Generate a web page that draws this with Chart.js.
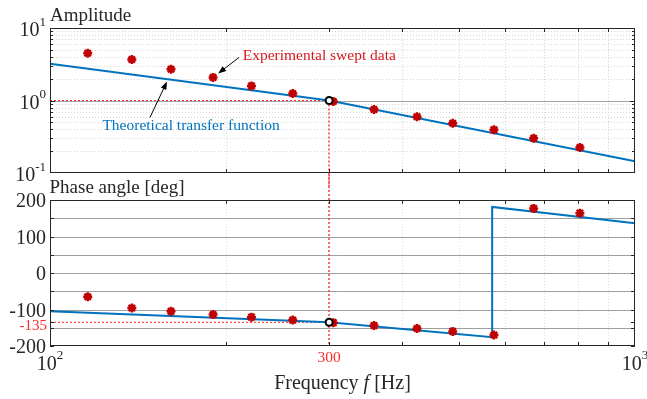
<!DOCTYPE html>
<html>
<head>
<meta charset="utf-8">
<script src="https://cdn.jsdelivr.net/npm/chart.js@4.4.1/dist/chart.umd.min.js"></script>
<style>
body{margin:0;background:#fff}
#wrap{position:relative;width:647px;height:399px}
canvas{position:absolute;left:0}
</style>
</head>
<body>
<div id="wrap">
<canvas id="ampChart" width="647" height="188" style="top:0"></canvas>
<canvas id="phaseChart" width="647" height="225" style="top:174px"></canvas>
</div>
<script>
var freqExp = [116, 138, 161, 190, 221, 260, 305, 358, 424, 488, 574, 671, 805];
var ampExp = [4.49, 3.68, 2.70, 2.08, 1.59, 1.25, 0.97, 0.75, 0.596, 0.486, 0.394, 0.302, 0.225];
var phaseExp = [-65, -96, -105, -114, -121, -129, -136, -144, -152, -160, -170, 177, 164];
// theoretical transfer function
var freqTheoryAmp = [100, 300, 1000];
var ampTheory = [3.21, 1.0, 0.145];
var freqTheoryPhase = [100, 300, 570, 570, 1000];
var phaseTheory = [-105, -135, -176, 181, 136];
// reference point
var refFreq = 300, refAmp = 1, refPhase = -135;
// ticks
var xMinorTicks = [200, 300, 400, 500, 600, 700, 800, 900];
var ampMinorTicks = [0.2, 0.3, 0.4, 0.5, 0.6, 0.7, 0.8, 0.9, 2, 3, 4, 5, 6, 7, 8, 9];
var ampMajorTicks = [0.1, 1, 10];
var ampTickExp = ['-1', '0', '1'];
var phaseTicks = [-200, -150, -100, -50, 0, 50, 100, 150, 200];
var phaseLabels = [200, 100, 0, -100, -200];

var SERIF = '"Liberation Serif", "Times New Roman", serif';
var DARK = '#262626';
var BLUE = '#0072bd';
var RED = '#c00000';
var REFRED = '#ff2020';

function pts(xs, ys) {
  return xs.map(function (f, i) { return {x: f, y: ys[i]}; });
}

function seg(ctx, x1, y1, x2, y2) {
  ctx.beginPath();
  ctx.moveTo(x1, y1);
  ctx.lineTo(x2, y2);
  ctx.stroke();
}

function txt(ctx, s, x, cy, size, color, align, italic) {
  ctx.font = (italic ? 'italic ' : '') + size + 'px ' + SERIF;
  ctx.fillStyle = color;
  ctx.textAlign = align;
  ctx.textBaseline = 'alphabetic';
  ctx.fillText(s, x, cy + 0.34 * size);
}

function pow10(ctx, e, x, cy, align) {
  ctx.font = '20px ' + SERIF;
  var wb = ctx.measureText('10').width;
  ctx.font = '13px ' + SERIF;
  var we = ctx.measureText(e).width;
  var left = align === 'right' ? x - wb - we : x - (wb + we) / 2;
  txt(ctx, '10', left, cy, 20, DARK, 'left');
  txt(ctx, e, left + wb, cy - 8, 13, DARK, 'left');
}

function crisp(v) { return Math.round(v) + 0.5; }

function arrow(ctx, x1, y1, x2, y2) {
  var ang = Math.atan2(y2 - y1, x2 - x1);
  ctx.strokeStyle = '#000';
  ctx.lineWidth = 1;
  seg(ctx, x1, y1, x2 - 6 * Math.cos(ang), y2 - 6 * Math.sin(ang));
  ctx.fillStyle = '#000';
  ctx.beginPath();
  ctx.moveTo(x2, y2);
  ctx.lineTo(x2 - 8 * Math.cos(ang) + 3 * Math.sin(ang), y2 - 8 * Math.sin(ang) - 3 * Math.cos(ang));
  ctx.lineTo(x2 - 8 * Math.cos(ang) - 3 * Math.sin(ang), y2 - 8 * Math.sin(ang) + 3 * Math.cos(ang));
  ctx.closePath();
  ctx.fill();
}

function xGrid(chart, gridColor) {
  var ctx = chart.ctx, a = chart.chartArea, x = chart.scales.x;
  ctx.strokeStyle = gridColor;
  ctx.lineWidth = 1;
  ctx.setLineDash([1, 2]);
  xMinorTicks.forEach(function (f) {
    if (f === refFreq) return;
    var px = crisp(x.getPixelForValue(f));
    seg(ctx, px, a.top, px, a.bottom);
  });
  ctx.setLineDash([]);
}

function refLine(chart, yFrom, yTo) {
  var ctx = chart.ctx, x = chart.scales.x;
  ctx.save();
  ctx.strokeStyle = '#ff3b3b';
  ctx.lineWidth = 1.5;
  ctx.setLineDash([2, 2]);
  var px = Math.round(x.getPixelForValue(refFreq));
  seg(ctx, px, yFrom, px, yTo);
  ctx.restore();
}

function frame(chart, yTicks) {
  var ctx = chart.ctx, a = chart.chartArea, x = chart.scales.x, y = chart.scales.y;
  ctx.save();
  ctx.strokeStyle = DARK;
  ctx.lineWidth = 1;
  ctx.setLineDash([]);
  ctx.strokeRect(a.left + 0.5, a.top + 0.5, a.right - a.left - 1, a.bottom - a.top - 1);
  xMinorTicks.forEach(function (f) {
    var px = crisp(x.getPixelForValue(f));
    seg(ctx, px, a.bottom, px, a.bottom - 4);
    seg(ctx, px, a.top, px, a.top + 4);
  });
  yTicks.forEach(function (t) {
    var py = crisp(y.getPixelForValue(t.v));
    seg(ctx, a.left, py, a.left + t.len, py);
    seg(ctx, a.right, py, a.right - t.len, py);
  });
  ctx.restore();
}

var notes = [
  {text: 'Experimental swept data', color: '#d7191c', at: [213.5, 4.27], tail: [210.4, 3.92], tip: [193.8, 2.36]},
  {text: 'Theoretical transfer function', color: BLUE, at: [122.9, 0.462], tail: [148.2, 0.583], tip: [158.5, 1.83]}
];

var ampPlugin = {
  id: 'ampDecor',
  beforeDatasetsDraw: function (chart) {
    var ctx = chart.ctx, a = chart.chartArea, y = chart.scales.y;
    ctx.save();
    xGrid(chart, '#d6d6d6');
    ctx.setLineDash([1, 2]);
    ctx.strokeStyle = '#d6d6d6';
    ampMinorTicks.forEach(function (v) {
      var py = crisp(y.getPixelForValue(v));
      seg(ctx, a.left, py, a.right, py);
    });
    ctx.setLineDash([]);
    ctx.strokeStyle = '#a6a6a6';
    var p1 = crisp(y.getPixelForValue(1));
    seg(ctx, a.left, p1, a.right, p1);
    ctx.restore();
    // vertical reference line, runs on into the phase panel
    refLine(chart, y.getPixelForValue(refAmp), chart.height);
  },
  afterDatasetsDraw: function (chart) {
    var ticks = ampMinorTicks.map(function (v) { return {v: v, len: 3}; })
      .concat([{v: 1, len: 5}]);
    frame(chart, ticks);
  },
  afterDraw: function (chart) {
    var ctx = chart.ctx, a = chart.chartArea, x = chart.scales.x, y = chart.scales.y;
    ctx.save();
    txt(ctx, 'Amplitude', a.left, a.top - 13.5, 19, DARK, 'left');
    ampMajorTicks.forEach(function (v, i) {
      pow10(ctx, ampTickExp[i], 46, y.getPixelForValue(v) + 1.5, 'right');
    });
    notes.forEach(function (n) {
      txt(ctx, n.text, x.getPixelForValue(n.at[0]), y.getPixelForValue(n.at[1]), 15.5, n.color, 'left');
      arrow(ctx, x.getPixelForValue(n.tail[0]), y.getPixelForValue(n.tail[1]),
        x.getPixelForValue(n.tip[0]), y.getPixelForValue(n.tip[1]));
    });
    ctx.restore();
  }
};

var phasePlugin = {
  id: 'phaseDecor',
  beforeDatasetsDraw: function (chart) {
    var ctx = chart.ctx, a = chart.chartArea, y = chart.scales.y;
    ctx.save();
    xGrid(chart, '#dedede');
    ctx.strokeStyle = '#9e9e9e';
    phaseTicks.slice(1, -1).forEach(function (v) {
      var py = crisp(y.getPixelForValue(v));
      seg(ctx, a.left, py, a.right, py);
    });
    ctx.restore();
    refLine(chart, 0, a.bottom);
  },
  afterDatasetsDraw: function (chart) {
    var ticks = phaseTicks.map(function (v) { return {v: v, len: 4}; })
      .concat([{v: refPhase, len: 4}]);
    frame(chart, ticks);
  },
  afterDraw: function (chart) {
    var ctx = chart.ctx, a = chart.chartArea, x = chart.scales.x, y = chart.scales.y;
    ctx.save();
    txt(ctx, 'Phase angle [deg]', a.left - 0.5, a.top - 13.5, 19, DARK, 'left');
    phaseLabels.forEach(function (v) {
      txt(ctx, String(v), 46, y.getPixelForValue(v) + 0.5, 20, DARK, 'right');
    });
    txt(ctx, String(refPhase), 47, y.getPixelForValue(refPhase) + 3, 15, '#ff2a2a', 'right');
    pow10(ctx, '2', x.getPixelForValue(100), a.bottom + 17, 'center');
    pow10(ctx, '3', x.getPixelForValue(1000), a.bottom + 17, 'center');
    txt(ctx, String(refFreq), x.getPixelForValue(refFreq), a.bottom + 11, 15.5, '#ff2a2a', 'center');
    // axis title with italic f
    var parts = [['Frequency ', false], ['f', true], [' [Hz]', false]];
    var w = 0;
    parts.forEach(function (p) {
      ctx.font = (p[1] ? 'italic ' : '') + '20px ' + SERIF;
      p.push(ctx.measureText(p[0]).width);
      w += p[2];
    });
    var cx = (a.left + a.right) / 2 - w / 2;
    parts.forEach(function (p) {
      txt(ctx, p[0], cx, a.bottom + 36.5, 20, DARK, 'left', p[1]);
      cx += p[2];
    });
    ctx.restore();
  }
};

function baseOptions(pad, yScale) {
  return {
    responsive: false,
    animation: false,
    events: [],
    layout: {padding: pad},
    scales: {
      x: {type: 'logarithmic', min: 100, max: 1000, display: false},
      y: yScale
    },
    plugins: {legend: {display: false}, tooltip: {enabled: false}}
  };
}

function datasets(fTheory, vTheory, vExp, refY) {
  return [
    {data: pts([refFreq], [refY]), showLine: false, pointStyle: 'circle', pointRadius: 3.5,
      pointBorderWidth: 2, pointBorderColor: '#000', pointBackgroundColor: '#fff', order: 0},
    {data: pts(freqExp, vExp), showLine: false, pointStyle: 'star', pointRadius: 4.5,
      pointBorderWidth: 2.5, pointBorderColor: RED, pointBackgroundColor: RED, order: 1},
    {data: pts(fTheory, vTheory), borderColor: BLUE, borderWidth: 2, pointRadius: 0, tension: 0, order: 2},
    {data: pts([100, refFreq], [refY, refY]), borderColor: REFRED, borderWidth: 1,
      borderDash: [2, 2], pointRadius: 0, order: 3}
  ];
}

new Chart(document.getElementById('ampChart'), {
  type: 'line',
  data: {datasets: datasets(freqTheoryAmp, ampTheory, ampExp, refAmp)},
  options: baseOptions({left: 50, right: 12, top: 28, bottom: 15},
    {type: 'logarithmic', min: 0.1, max: 10, display: false}),
  plugins: [ampPlugin]
});

new Chart(document.getElementById('phaseChart'), {
  type: 'line',
  data: {datasets: datasets(freqTheoryPhase, phaseTheory, phaseExp, refPhase)},
  options: baseOptions({left: 50, right: 12, top: 26, bottom: 53},
    {type: 'linear', min: -200, max: 200, display: false}),
  plugins: [phasePlugin]
});
</script>
</body>
</html>
